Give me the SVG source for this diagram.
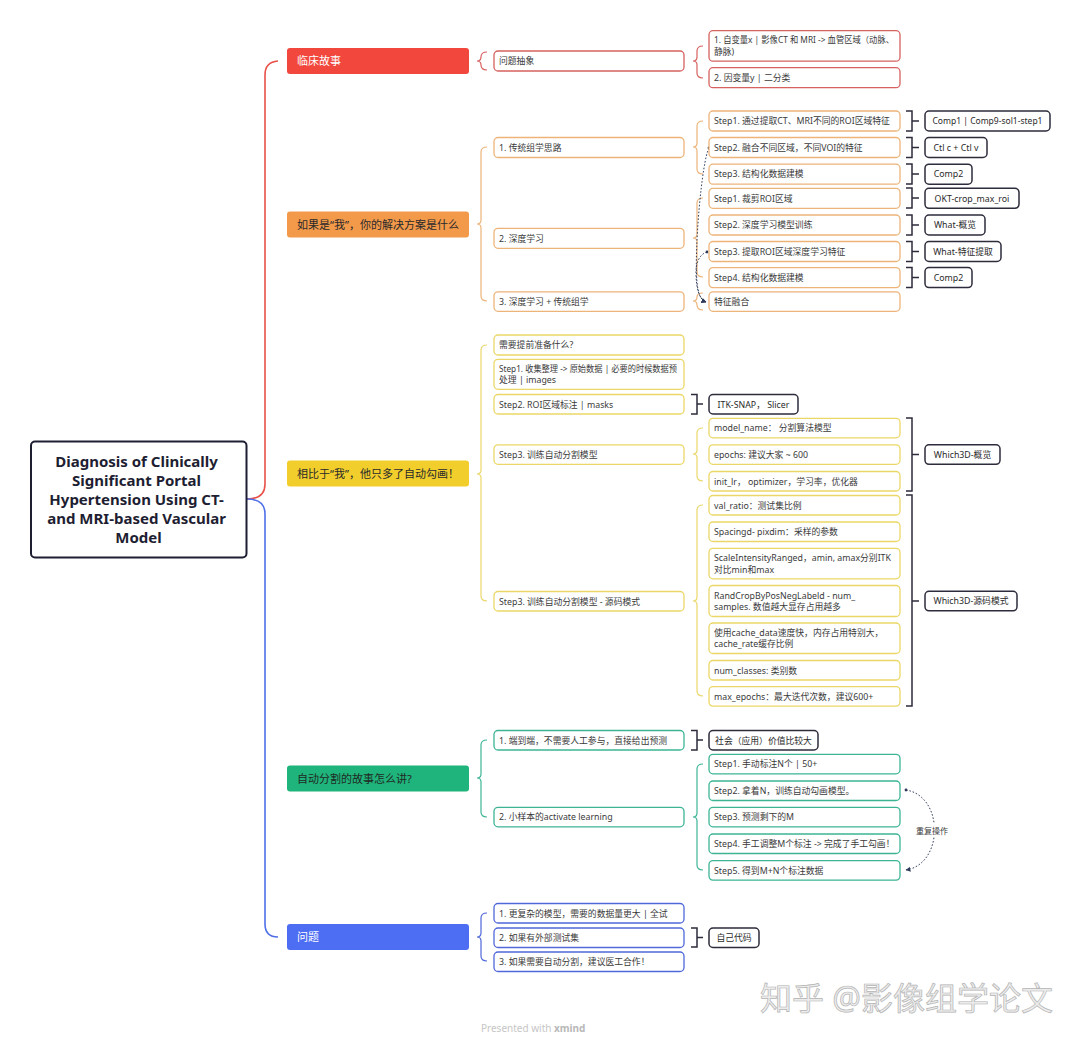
<svg xmlns="http://www.w3.org/2000/svg" width="1080" height="1044" viewBox="0 0 1080 1044">
<defs>
<style>
text{font-family:"Noto Sans","Noto Sans CJK SC",sans-serif;}
.t{font-size:8.8px;fill:#3a3a3a;}
.tc{font-size:8.8px;fill:#2a2a2a;text-anchor:middle;}
.t1{font-size:11px;}
.n rect{fill:#fff;stroke-width:1.3;}
.red rect{stroke:#D6625F;}
.org rect{stroke:#EDB47A;}
.yel rect{stroke:#EBD767;}
.grn rect{stroke:#3DB595;}
.blu rect{stroke:#4F68DA;}
.dk rect{fill:#fff;stroke:#2C2C3C;stroke-width:1.5;}
.br{fill:none;stroke-width:1.2;}
.bk{fill:none;stroke:#2C2C3C;stroke-width:1.5;}
.rel{fill:none;stroke:#34405E;stroke-width:1;stroke-dasharray:1.6 1.8;}
</style>
<marker id="arr" viewBox="0 0 10 10" refX="9" refY="5" markerWidth="5" markerHeight="5" orient="auto">
<path d="M0,0 L10,5 L0,10 z" fill="#2E3A5A"/>
</marker>
<marker id="dot" viewBox="0 0 10 10" refX="5" refY="5" markerWidth="3.5" markerHeight="3.5">
<circle cx="5" cy="5" r="4" fill="#2E3A5A"/>
</marker>
</defs>
<rect width="1080" height="1044" fill="#fff"/>

<g id="connectors">
<path d="M247,499 C258,499 265,495 265,484 L265,75 Q265,62 278,61" fill="none" stroke="#E8524A" stroke-width="1.6"/>
<path d="M247,499 C258,499 265,503 265,514 L265,924 Q265,937 278,937" fill="none" stroke="#4F6FE8" stroke-width="1.6"/>
<path class="br" stroke="#D6625F" d="M487,52 Q481,52 481,57 V57 Q481,61 477,61 Q481,61 481,65 V65 Q481,70 487,70"/>
<path class="br" stroke="#EDB47A" d="M487,147 Q481,147 481,152 V220 Q481,224 477,224 Q481,224 481,228 V296 Q481,301 487,301"/>
<path class="br" stroke="#EBD767" d="M487,345 Q481,345 481,350 V470 Q481,474 477,474 Q481,474 481,478 V596 Q481,601 487,601"/>
<path class="br" stroke="#3DB595" d="M487,740 Q481,740 481,745 V774 Q481,778 477,778 Q481,778 481,782 V812 Q481,817 487,817"/>
<path class="br" stroke="#4F68DA" d="M487,913 Q481,913 481,918 V933 Q481,937 477,937 Q481,937 481,941 V956 Q481,961 487,961"/>
<path class="br" stroke="#D6625F" d="M703,46 Q697,46 697,51 V57 Q697,61 693,61 Q697,61 697,65 V73 Q697,78 703,78"/>
<path class="br" stroke="#EDB47A" d="M703,121 Q697,121 697,126 V143 Q697,147 693,147 Q697,147 697,151 V169 Q697,174 703,174"/>
<path class="br" stroke="#EDB47A" d="M703,198 Q697,198 697,203 V234 Q697,238 693,238 Q697,238 697,242 V272 Q697,277 703,277"/>
<path class="br" stroke="#EDB47A" d="M703,293 Q697,293 697,297 V297 Q697,301 693,301 Q697,301 697,305 V305 Q697,310 703,310"/>
<path class="br" stroke="#EBD767" d="M703,428 Q697,428 697,433 V450 Q697,454 693,454 Q697,454 697,458 V476 Q697,481 703,481"/>
<path class="br" stroke="#EBD767" d="M703,505 Q697,505 697,510 V597 Q697,601 693,601 Q697,601 697,605 V691 Q697,696 703,696"/>
<path class="br" stroke="#3DB595" d="M703,764 Q697,764 697,769 V813 Q697,817 693,817 Q697,817 697,821 V865 Q697,870 703,870"/>
<path class="bk" d="M906,111 H912 V131 H906 M912,121 H919"/>
<path class="bk" d="M906,137.5 H912 V157.5 H906 M912,147.5 H919"/>
<path class="bk" d="M906,164 H912 V184 H906 M912,174 H919"/>
<path class="bk" d="M906,188 H912 V208 H906 M912,198 H919"/>
<path class="bk" d="M906,215 H912 V235 H906 M912,225 H919"/>
<path class="bk" d="M906,241.5 H912 V261.5 H906 M912,251.5 H919"/>
<path class="bk" d="M906,267.5 H912 V287.5 H906 M912,277.5 H919"/>
<path class="bk" d="M906,418 H912 V491 H906 M912,454.5 H919"/>
<path class="bk" d="M906,495 H912 V706 H906 M912,601 H919"/>
<path class="bk" d="M691,394.5 H697 V414 H691 M697,404 H703"/>
<path class="bk" d="M691,730.5 H697 V750 H691 M697,740 H703"/>
<path class="bk" d="M691,928 H697 V947 H691 M697,937.5 H703"/>
<path class="rel" marker-start="url(#dot)" marker-end="url(#arr)" d="M709,148 C702,160 694,250 697,282 C698,294 701,300 706,302"/>
<path class="rel" marker-start="url(#dot)" marker-end="url(#arr)" d="M707,252 C700,254 696,262 696,272 C696,290 700,300 706,302"/>
<path class="rel" marker-start="url(#dot)" marker-end="url(#arr)" d="M906,790 C944,796 944,864 906,870"/>
<rect x="914" y="824" width="36" height="13" fill="#fff"/>
<text x="932" y="833.5" style="font-size:8px;fill:#3a3a3a;text-anchor:middle">重复操作</text>
</g>

<g id="root">
<rect x="31" y="441.5" width="215.5" height="116" rx="4" fill="#fff" stroke="#1E1E32" stroke-width="2"/>
<text style="font-size:15px;font-weight:bold;fill:#1E1E32;text-anchor:middle">
<tspan x="138.5" y="466.5">Diagnosis of Clinically</tspan>
<tspan x="138.5" y="485.5">Significant Portal</tspan>
<tspan x="138.5" y="504.5">Hypertension Using CT-</tspan>
<tspan x="138.5" y="523.5">and MRI-based Vascular</tspan>
<tspan x="138.5" y="542.5">Model</tspan>
</text>
</g>

<g id="b1">
<rect x="287" y="48" width="182" height="26" rx="3" fill="#F2473D"/>
<text class="t1" x="297" y="65" fill="#fff">临床故事</text>
</g>
<g id="b2">
<rect x="287" y="211.5" width="182" height="26" rx="3" fill="#F2994A"/>
<text class="t1" x="297" y="228.5" fill="#2a2a2a">如果是“我”，你的解决方案是什么</text>
</g>
<g id="b3">
<rect x="287" y="460.5" width="182" height="26" rx="3" fill="#F1CE2C"/>
<text class="t1" x="297" y="477.5" fill="#2a2a2a">相比于“我”，他只多了自动勾画！</text>
</g>
<g id="b4">
<rect x="287" y="765.5" width="182" height="26" rx="3" fill="#1FB47B"/>
<text class="t1" x="297" y="782.5" fill="#1f2a24">自动分割的故事怎么讲?</text>
</g>
<g id="b5">
<rect x="287" y="924" width="182" height="26" rx="3" fill="#4D6DF2"/>
<text class="t1" x="297" y="941" fill="#fff">问题</text>
</g>

<g id="n-wtcx" class="n red"><rect x="494" y="51" width="190" height="20" rx="4"/><text class="t" x="499" y="64.2">问题抽象</text></g>
<g id="n-zbl" class="n red"><rect x="709" y="30.7" width="191" height="30.5" rx="4"/><text class="t" x="714" y="43" textLength="180" lengthAdjust="spacingAndGlyphs">1. 自变量x | 影像CT 和 MRI -&gt; 血管区域（动脉、</text><text class="t" x="714" y="54.5">静脉)</text></g>
<g id="n-ybl" class="n red"><rect x="709" y="67.7" width="191" height="20" rx="4"/><text class="t" x="714" y="80.9">2. 因变量y | 二分类</text></g>

<g id="n-ctzx" class="n org"><rect x="494" y="137.5" width="190" height="20" rx="4"/><text class="t" x="499" y="150.7">1. 传统组学思路</text></g>
<g id="n-sdxx" class="n org"><rect x="494" y="228.3" width="190" height="20" rx="4"/><text class="t" x="499" y="241.5">2. 深度学习</text></g>
<g id="n-sdct" class="n org"><rect x="494" y="291.8" width="190" height="19.5" rx="4"/><text class="t" x="499" y="304.8">3. 深度学习 + 传统组学</text></g>
<g id="n-s1a" class="n org"><rect x="709" y="111" width="191" height="20" rx="4"/><text class="t" x="714" y="124.2">Step1. 通过提取CT、MRI不同的ROI区域特征</text></g>
<g id="n-s2a" class="n org"><rect x="709" y="137.5" width="191" height="20" rx="4"/><text class="t" x="714" y="150.7">Step2. 融合不同区域，不同VOI的特征</text></g>
<g id="n-s3a" class="n org"><rect x="709" y="164.2" width="191" height="20" rx="4"/><text class="t" x="714" y="177.4">Step3. 结构化数据建模</text></g>
<g id="n-s1b" class="n org"><rect x="709" y="188.3" width="191" height="20" rx="4"/><text class="t" x="714" y="201.5">Step1. 裁剪ROI区域</text></g>
<g id="n-s2b" class="n org"><rect x="709" y="215" width="191" height="20" rx="4"/><text class="t" x="714" y="228.2">Step2. 深度学习模型训练</text></g>
<g id="n-s3b" class="n org"><rect x="709" y="241.5" width="191" height="20" rx="4"/><text class="t" x="714" y="254.7">Step3. 提取ROI区域深度学习特征</text></g>
<g id="n-s4b" class="n org"><rect x="709" y="267.6" width="191" height="20" rx="4"/><text class="t" x="714" y="280.8">Step4. 结构化数据建模</text></g>
<g id="n-tzrh" class="n org"><rect x="709" y="291.8" width="191" height="19.5" rx="4"/><text class="t" x="714" y="304.8">特征融合</text></g>
<g id="n-c1" class="dk"><rect x="925" y="111" width="125" height="20" rx="4"/><text class="tc" x="987.5" y="124.2" textLength="110" lengthAdjust="spacingAndGlyphs">Comp1 | Comp9-sol1-step1</text></g>
<g id="n-ctl" class="dk"><rect x="925" y="137.5" width="62" height="20" rx="4"/><text class="tc" x="956" y="150.7">Ctl c + Ctl v</text></g>
<g id="n-c2a" class="dk"><rect x="925" y="164.2" width="47" height="20" rx="4"/><text class="tc" x="948.5" y="177.4">Comp2</text></g>
<g id="n-okt" class="dk"><rect x="925" y="188.3" width="94" height="20" rx="4"/><text class="tc" x="972" y="201.5">OKT-crop_max_roi</text></g>
<g id="n-wgl" class="dk"><rect x="925" y="215" width="60" height="20" rx="4"/><text class="tc" x="955" y="228.2">What-概览</text></g>
<g id="n-wtz" class="dk"><rect x="925" y="241.5" width="76" height="20" rx="4"/><text class="tc" x="963" y="254.7">What-特征提取</text></g>
<g id="n-c2b" class="dk"><rect x="925" y="267.6" width="47" height="20" rx="4"/><text class="tc" x="948.5" y="280.8">Comp2</text></g>

<g id="n-xy" class="n yel"><rect x="494" y="335" width="190" height="20" rx="4"/><text class="t" x="499" y="348.2">需要提前准备什么?</text></g>
<g id="n-sj" class="n yel"><rect x="494" y="359.3" width="190" height="30" rx="4"/><text class="t" x="499" y="372" textLength="178" lengthAdjust="spacingAndGlyphs">Step1. 收集整理 -&gt; 原始数据 | 必要的时候数据预</text><text class="t" x="499" y="383.3">处理 | images</text></g>
<g id="n-roi" class="n yel"><rect x="494" y="394.5" width="190" height="19.5" rx="4"/><text class="t" x="499" y="407.5">Step2. ROI区域标注 | masks</text></g>
<g id="n-xl" class="n yel"><rect x="494" y="444.8" width="190" height="19.5" rx="4"/><text class="t" x="499" y="457.8">Step3. 训练自动分割模型</text></g>
<g id="n-ym" class="n yel"><rect x="494" y="591.5" width="190" height="19.5" rx="4"/><text class="t" x="499" y="604.5">Step3. 训练自动分割模型 - 源码模式</text></g>
<g id="n-itk" class="dk"><rect x="709" y="394.5" width="89" height="19.5" rx="4"/><text class="tc" x="753.5" y="407.5">ITK-SNAP， Slicer</text></g>
<g id="n-mn" class="n yel"><rect x="709" y="418.3" width="191" height="19.5" rx="4"/><text class="t" x="714" y="431.3">model_name： 分割算法模型</text></g>
<g id="n-ep" class="n yel"><rect x="709" y="444.8" width="191" height="19.5" rx="4"/><text class="t" x="714" y="457.8">epochs: 建议大家 ~ 600</text></g>
<g id="n-lr" class="n yel"><rect x="709" y="471.5" width="191" height="19.5" rx="4"/><text class="t" x="714" y="484.5">init_lr， optimizer，学习率，优化器</text></g>
<g id="n-vr" class="n yel"><rect x="709" y="495.5" width="191" height="19.5" rx="4"/><text class="t" x="714" y="508.5">val_ratio：测试集比例</text></g>
<g id="n-sp" class="n yel"><rect x="709" y="522" width="191" height="19.5" rx="4"/><text class="t" x="714" y="535">Spacingd- pixdim：采样的参数</text></g>
<g id="n-si" class="n yel"><rect x="709" y="548.3" width="191" height="30.5" rx="4"/><text class="t" x="714" y="561.3">ScaleIntensityRanged，amin, amax分别ITK</text><text class="t" x="714" y="572.6">对比min和max</text></g>
<g id="n-rc" class="n yel"><rect x="709" y="585.5" width="191" height="31" rx="4"/><text class="t" x="714" y="598.6">RandCropByPosNegLabeld - num_</text><text class="t" x="714" y="610">samples. 数值越大显存占用越多</text></g>
<g id="n-cd" class="n yel"><rect x="709" y="623" width="191" height="30.5" rx="4"/><text class="t" x="714" y="636">使用cache_data速度快，内存占用特别大，</text><text class="t" x="714" y="647.3">cache_rate缓存比例</text></g>
<g id="n-nc" class="n yel"><rect x="709" y="660.5" width="191" height="19.5" rx="4"/><text class="t" x="714" y="673.5">num_classes: 类别数</text></g>
<g id="n-me" class="n yel"><rect x="709" y="686.6" width="191" height="19.5" rx="4"/><text class="t" x="714" y="699.6">max_epochs：最大迭代次数，建议600+</text></g>
<g id="n-w3a" class="dk"><rect x="925" y="444.8" width="75" height="19.5" rx="4"/><text class="tc" x="962.5" y="457.8">Which3D-概览</text></g>
<g id="n-w3b" class="dk"><rect x="925" y="591.3" width="92" height="19.5" rx="4"/><text class="tc" x="971" y="604.3">Which3D-源码模式</text></g>

<g id="n-ddd" class="n grn"><rect x="494" y="730.5" width="190" height="19.5" rx="4"/><text class="t" x="499" y="743.5">1. 端到端，不需要人工参与，直接给出预测</text></g>
<g id="n-al" class="n grn"><rect x="494" y="807.3" width="190" height="19.5" rx="4"/><text class="t" x="499" y="820.3">2. 小样本的activate learning</text></g>
<g id="n-sh" class="dk"><rect x="709" y="730.5" width="109" height="19.5" rx="4"/><text class="tc" x="763.5" y="743.5">社会（应用）价值比较大</text></g>
<g id="n-g1" class="n grn"><rect x="709" y="754.3" width="191" height="19.5" rx="4"/><text class="t" x="714" y="767.3">Step1. 手动标注N个 | 50+</text></g>
<g id="n-g2" class="n grn"><rect x="709" y="781" width="191" height="19.5" rx="4"/><text class="t" x="714" y="794">Step2. 拿着N，训练自动勾画模型。</text></g>
<g id="n-g3" class="n grn"><rect x="709" y="807.3" width="191" height="19.5" rx="4"/><text class="t" x="714" y="820.3">Step3. 预测剩下的M</text></g>
<g id="n-g4" class="n grn"><rect x="709" y="834" width="191" height="19.5" rx="4"/><text class="t" x="714" y="847">Step4. 手工调整M个标注 -&gt; 完成了手工勾画！</text></g>
<g id="n-g5" class="n grn"><rect x="709" y="860.6" width="191" height="19.5" rx="4"/><text class="t" x="714" y="873.6">Step5. 得到M+N个标注数据</text></g>

<g id="n-q1" class="n blu"><rect x="494" y="903.5" width="190" height="19.5" rx="4"/><text class="t" x="499" y="916.5">1. 更复杂的模型，需要的数据量更大 | 全试</text></g>
<g id="n-q2" class="n blu"><rect x="494" y="928" width="190" height="19.5" rx="4"/><text class="t" x="499" y="941">2. 如果有外部测试集</text></g>
<g id="n-q3" class="n blu"><rect x="494" y="952" width="190" height="19.5" rx="4"/><text class="t" x="499" y="965">3. 如果需要自动分割，建议医工合作！</text></g>
<g id="n-zj" class="dk"><rect x="709" y="928" width="50" height="19.5" rx="4"/><text class="tc" x="734" y="941">自己代码</text></g>

<text x="760" y="1010" style="font-size:32px;fill:#ececec;stroke:#b4b4b4;stroke-width:0.7">知乎 @影像组学论文</text>
<text x="481" y="1031.5" style="font-size:10px;fill:#c6c6c6">Presented with <tspan style="font-weight:bold;fill:#b8b8b8">xmind</tspan></text>
</svg>
